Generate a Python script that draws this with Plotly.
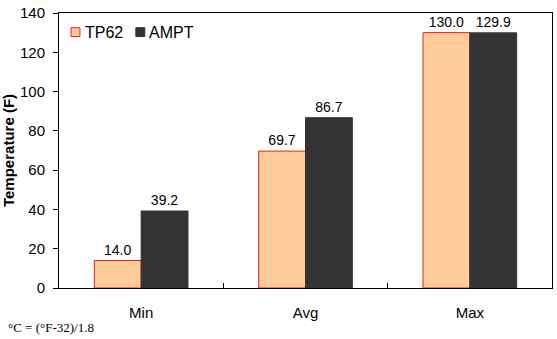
import plotly.graph_objects as go

categories = ["Min", "Avg", "Max"]
tp62 = [14.0, 69.7, 130.0]
ampt = [39.2, 86.7, 129.9]
yticks = [0, 20, 40, 60, 80, 100, 120, 140]

FONT = "Liberation Sans, Arial, sans-serif"
TP_FILL, TP_LINE = "#FFCC99", "#E02020"
AM_FILL = "#333333"

fig = go.Figure()
fig.add_trace(go.Bar(
    name="TP62", x=categories, y=tp62,
    marker=dict(color=TP_FILL, line=dict(color=TP_LINE, width=1)),
    text=[f"{v:.1f}" for v in tp62], textposition="outside",
    textfont=dict(family=FONT, size=14, color="black"), cliponaxis=False,
))
fig.add_trace(go.Bar(
    name="AMPT", x=categories, y=ampt,
    marker=dict(color=AM_FILL, line=dict(color=AM_FILL, width=1)),
    text=[f"{v:.1f}" for v in ampt], textposition="outside",
    textfont=dict(family=FONT, size=14, color="black"), cliponaxis=False,
))

W, H = 494, 280  # plot area size in px
def px(x):
    return (x - 59) / W
def py(y):
    return (288 - y) / H

shapes = [
    dict(type="rect", xref="paper", yref="paper", x0=px(71), x1=px(80),
         y0=py(32), y1=py(23), fillcolor=TP_FILL, line=dict(color=TP_LINE, width=1)),
    dict(type="rect", xref="paper", yref="paper", x0=px(136), x1=px(145),
         y0=py(32), y1=py(23), fillcolor=AM_FILL, line=dict(color=AM_FILL, width=1)),
]
annotations = [
    dict(text="TP62", xref="paper", yref="paper", x=px(83), y=py(28),
         xanchor="left", yanchor="middle", showarrow=False,
         font=dict(family=FONT, size=16, color="black")),
    dict(text="AMPT", xref="paper", yref="paper", x=px(147), y=py(28),
         xanchor="left", yanchor="middle", showarrow=False,
         font=dict(family=FONT, size=16, color="black")),
    dict(text="°C = (°F-32)/1.8", xref="paper", yref="paper",
         x=px(6), y=py(328), xanchor="left", yanchor="middle", showarrow=False,
         font=dict(family="Liberation Serif, Times New Roman, serif", size=13,
                   color="black")),
]

fig.update_layout(
    width=557, height=339,
    margin=dict(l=59, r=4, t=8, b=51),
    paper_bgcolor="white", plot_bgcolor="white",
    barmode="group", bargap=0.43, bargroupgap=0,
    font=dict(family=FONT, size=15, color="black"),
    showlegend=False,
    xaxis=dict(type="category", showline=True, linecolor="black", linewidth=1,
               mirror=True, ticks="inside", tickson="boundaries", ticklen=5,
               tickcolor="black", showgrid=False, ticklabelstandoff=11,
               tickfont=dict(family=FONT, size=15)),
    yaxis=dict(range=[0, 140], tickvals=yticks, showline=True, linecolor="black",
               linewidth=1, mirror=True, ticks="outside", ticklen=5,
               tickcolor="black", showgrid=False, zeroline=False,
               ticklabeloverflow="allow", ticklabelstandoff=5,
               tickfont=dict(family=FONT, size=15),
               title=dict(text="<b>Temperature (F)</b>", standoff=5,
                          font=dict(family=FONT, size=15))),
    shapes=shapes,
    annotations=annotations,
)

fig.write_html("out.html")
